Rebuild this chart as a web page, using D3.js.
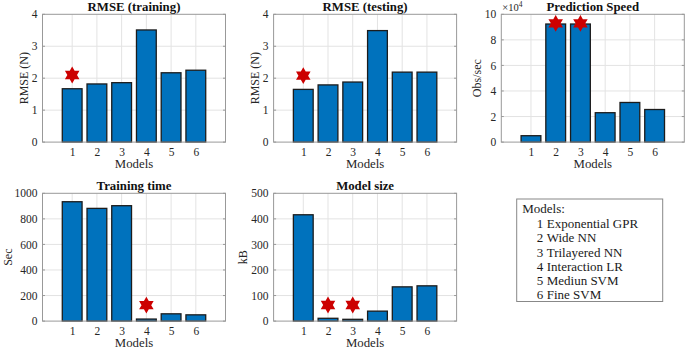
<!DOCTYPE html>
<html>
<head>
<meta charset="utf-8">
<script src="https://cdn.jsdelivr.net/npm/d3@7/dist/d3.min.js"></script>
<style>
  html, body { margin: 0; padding: 0; background: #fff; }
  svg { display: block; font-family: "Liberation Serif", "Times New Roman", serif; }
  svg text { font-family: "Liberation Serif", "Times New Roman", serif !important; }
</style>
</head>
<body>
<svg id="chart" width="685" height="350"></svg>
<script>
// ---- data ----
const models = [1, 2, 3, 4, 5, 6];
const modelNames = ["Exponential GPR", "Wide NN", "Trilayered NN", "Interaction LR", "Mediun SVM", "Fine SVM"];
const rmseTraining = [1.67, 1.82, 1.86, 3.51, 2.17, 2.25];
const rmseTesting = [1.65, 1.79, 1.88, 3.49, 2.19, 2.19];
const predictionSpeed = [5000, 92400, 92400, 23000, 31000, 25500];
const trainingTime = [934, 882, 903, 16, 57, 49];
const modelSize = [416, 11, 7, 39, 134, 138];
const ticksRmse = [0, 1, 2, 3, 4];
const ticksSpeed = [0, 20000, 40000, 60000, 80000, 100000];
const ticksTime = [0, 200, 400, 600, 800, 1000];
const ticksSize = [0, 100, 200, 300, 400, 500];
// best-model markers: model index and marker height
const starRmseTraining = [{m: 1, v: 2.10}];
const starRmseTesting = [{m: 1, v: 2.08}];
const starSpeed = [{m: 2, v: 92900}, {m: 3, v: 92900}];
const starTime = [{m: 4, v: 125}];
const starSize = [{m: 2, v: 63}, {m: 3, v: 63}];

// ---- layout ----
const panels = [
  {title: "RMSE (training)", ylabel: "RMSE (N)", values: rmseTraining, ticks: ticksRmse, max: 4, stars: starRmseTraining,
   left: 42.5, top: 14.3, ylabOff: 14.5, fmt: d => d},
  {title: "RMSE (testing)", ylabel: "RMSE (N)", values: rmseTesting, ticks: ticksRmse, max: 4, stars: starRmseTesting,
   left: 273.6, top: 14.3, ylabOff: 14.5, fmt: d => d},
  {title: "Prediction Speed", ylabel: "Obs/sec", values: predictionSpeed, ticks: ticksSpeed, max: 100000, stars: starSpeed,
   left: 501.3, top: 14.3, ylabOff: 20, fmt: d => d / 10000, exponent: "4"},
  {title: "Training time", ylabel: "Sec", values: trainingTime, ticks: ticksTime, max: 1000, stars: starTime,
   left: 42.5, top: 193.3, ylabOff: 31, fmt: d => d},
  {title: "Model size", ylabel: "kB", values: modelSize, ticks: ticksSize, max: 500, stars: starSize,
   left: 273.6, top: 193.3, ylabOff: 27, fmt: d => d}
];
const W = 183, H = 127.8;
const FONT = "Liberation Serif";
const svg = d3.select("#chart");

function hexagram(r) {
  const pts = [];
  for (let i = 0; i < 12; i++) {
    const a = -Math.PI / 2 + i * Math.PI / 6;
    const rr = i % 2 === 0 ? r : r / Math.sqrt(3);
    pts.push([rr * Math.cos(a), rr * Math.sin(a)]);
  }
  return d3.line()(pts) + "Z";
}

panels.forEach(p => {
  const g = svg.append("g").attr("transform", `translate(${p.left},${p.top})`);
  const x = d3.scaleLinear().domain([-0.2, 7.2]).range([0, W]);
  const y = d3.scaleLinear().domain([0, p.max]).range([H, 0]);

  // grid
  g.append("g").selectAll("line").data(models).join("line")
    .attr("x1", d => x(d)).attr("x2", d => x(d)).attr("y1", 0).attr("y2", H)
    .attr("stroke", "#e3e3e3").attr("stroke-width", 1);
  g.append("g").selectAll("line").data(p.ticks.slice(1, -1)).join("line")
    .attr("y1", d => y(d)).attr("y2", d => y(d)).attr("x1", 0).attr("x2", W)
    .attr("stroke", "#e3e3e3").attr("stroke-width", 1);

  // bars
  const bw = x(0.8) - x(0);
  g.append("g").selectAll("rect").data(p.values).join("rect")
    .attr("x", (d, i) => x(models[i]) - bw / 2)
    .attr("y", d => y(d))
    .attr("width", bw)
    .attr("height", d => H - y(d))
    .attr("fill", "#0072BD")
    .attr("stroke", "#1c1c1c")
    .attr("stroke-width", 1.3);

  // box
  g.append("rect").attr("x", 0).attr("y", 0).attr("width", W).attr("height", H)
    .attr("fill", "none").attr("stroke", "#999").attr("stroke-width", 1);

  // y axis (labels)
  const ya = d3.axisLeft(y).tickValues(p.ticks).tickFormat(p.fmt).tickSize(0).tickPadding(5);
  const yg = g.append("g").call(ya).attr("font-family", FONT).attr("font-size", 11.5);
  yg.select(".domain").remove();
  yg.selectAll("text").attr("fill", "#262626");
  // inner tick marks
  g.append("g").selectAll("line").data(p.ticks).join("line")
    .attr("x1", 0).attr("x2", 2.5).attr("y1", d => y(d)).attr("y2", d => y(d))
    .attr("stroke", "#999");
  g.append("g").selectAll("line").data(p.ticks).join("line")
    .attr("x1", W).attr("x2", W - 2.5).attr("y1", d => y(d)).attr("y2", d => y(d))
    .attr("stroke", "#999");

  // x axis (labels)
  const xa = d3.axisBottom(x).tickValues(models).tickFormat(d => d).tickSize(0).tickPadding(6);
  const xg = g.append("g").attr("transform", `translate(0,${H})`).call(xa)
    .attr("font-family", FONT).attr("font-size", 11.5);
  xg.select(".domain").remove();
  xg.selectAll("text").attr("fill", "#262626");

  // stars
  g.append("g").selectAll("path").data(p.stars).join("path")
    .attr("d", hexagram(8.4))
    .attr("transform", d => `translate(${x(d.m)},${y(d.v)})`)
    .attr("fill", "#cc0000");

  // title
  g.append("text").attr("x", W / 2).attr("y", -3.2).attr("text-anchor", "middle")
    .attr("font-size", 12.8).attr("font-weight", "bold").attr("fill", "#111").text(p.title);
  // x label
  g.append("text").attr("x", W / 2).attr("y", H + 25.8).attr("text-anchor", "middle")
    .attr("font-size", 12.8).attr("fill", "#262626").text("Models");
  // y label
  g.append("text").attr("transform", `translate(${-p.ylabOff},${H / 2}) rotate(-90)`)
    .attr("text-anchor", "middle").attr("font-size", 12).attr("fill", "#262626").text(p.ylabel);
  // exponent
  if (p.exponent) {
    const t = g.append("text").attr("x", 1).attr("y", -3.5).attr("font-size", 10.5).attr("fill", "#262626");
    t.append("tspan").text("\u00d710");
    t.append("tspan").attr("dy", -3.5).attr("font-size", 7.5).text(p.exponent);
  }
});

// legend box
const lg = svg.append("g").attr("transform", "translate(516.7,199)");
lg.append("rect").attr("x", 0).attr("y", 0).attr("width", 146).attr("height", 102.5)
  .attr("fill", "#fff").attr("stroke", "#888").attr("stroke-width", 1);
lg.append("text").attr("x", 5.5).attr("y", 14.3).attr("font-size", 13).attr("fill", "#1a1a1a").text("Models:");
const rows = lg.selectAll("g.row").data(models).join("g").attr("class", "row")
  .attr("transform", (d, i) => `translate(0,${29.3 + i * 14.15})`);
rows.append("text").attr("x", 20).attr("font-size", 13).attr("fill", "#1a1a1a").text(d => d);
rows.append("text").attr("x", 30).attr("font-size", 13).attr("fill", "#1a1a1a").text((d, i) => modelNames[i]);
</script>
</body>
</html>
